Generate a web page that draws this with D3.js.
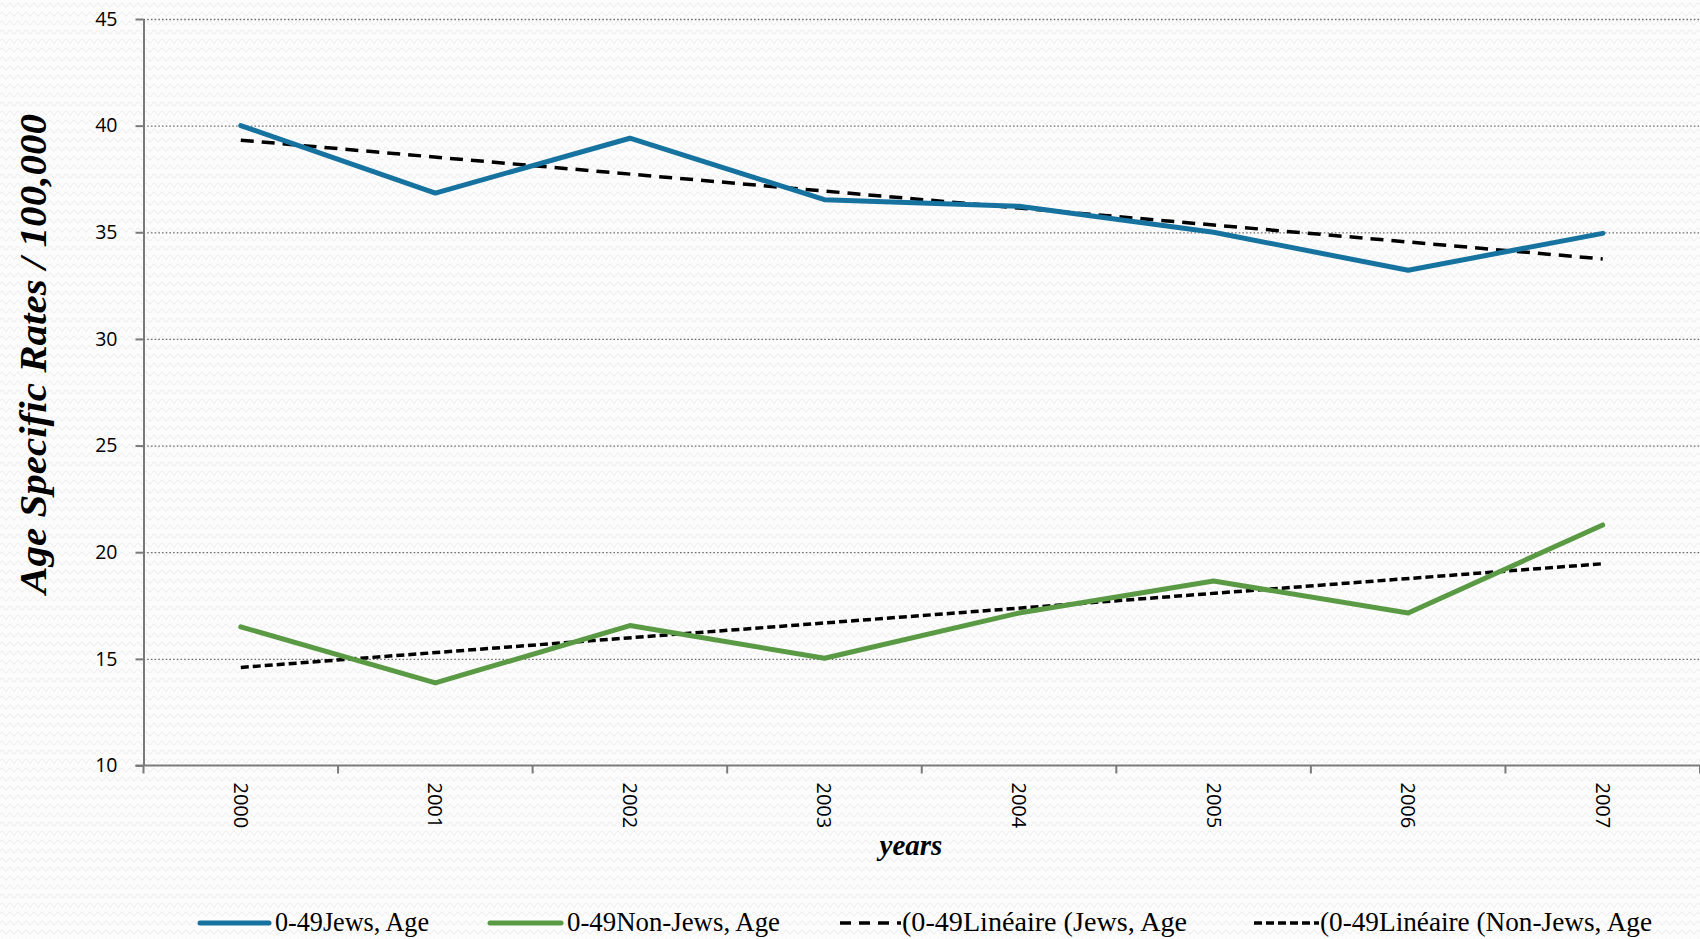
<!DOCTYPE html>
<html>
<head>
<meta charset="utf-8">
<script src="https://cdn.jsdelivr.net/npm/d3@7"></script>
<style>
  html, body { margin: 0; padding: 0; background: #fcfcfc; }
  svg { display: block; }
  .tick text { fill: #000; }
</style>
</head>
<body>
<svg width="1700" height="939"></svg>
<script>
const width = 1700, height = 939;

// data
const years = ["2000", "2001", "2002", "2003", "2004", "2005", "2006", "2007"];
const jews = [40.0, 36.84, 39.41, 36.53, 36.22, 35.0, 33.22, 34.95];
const nonJews = [16.5, 13.87, 16.56, 15.03, 17.15, 18.65, 17.15, 21.28];
// linear trend lines: values at first and last year
const jewsTrend = [39.32, 33.75];
const nonJewsTrend = [14.6, 19.46];
const yTicks = [10, 15, 20, 25, 30, 35, 40, 45];
const legendLabels = ["0-49Jews, Age", "0-49Non-Jews, Age", "(0-49Linéaire (Jews, Age", "(0-49Linéaire (Non-Jews, Age"];

const blue = "#16729f", green = "#5a9a44";

const margin = {left: 143.5, right: 0, top: 19, bottom: 173.5};
const svg = d3.select("svg");

// faint wavy background texture
const defs = svg.append("defs");
const pat = defs.append("pattern")
    .attr("id", "wave")
    .attr("width", 8).attr("height", 9)
    .attr("patternUnits", "userSpaceOnUse");
pat.append("path")
    .attr("d", "M0,5 Q2,1 4,5 T8,5")
    .attr("fill", "none")
    .attr("stroke", "#ececec")
    .attr("stroke-width", 1);
svg.append("rect").attr("width", width).attr("height", height).attr("fill", "#fcfcfc");
svg.append("rect").attr("width", width).attr("height", height).attr("fill", "url(#wave)");

const x = d3.scaleBand().domain(years).range([margin.left, width - margin.right]);
const y = d3.scaleLinear().domain([10, 45]).range([height - margin.bottom, margin.top]);
const xc = d => x(d) + x.bandwidth() / 2;

// gridlines
svg.append("g")
    .attr("transform", `translate(${margin.left},0)`)
    .call(d3.axisLeft(y).tickValues(yTicks.filter(v => v > 10)).tickSize(-(width - margin.left)).tickFormat(""))
    .call(g => g.select(".domain").remove())
    .call(g => g.selectAll("line")
        .attr("stroke", "#6e6e6e")
        .attr("stroke-width", 1.3)
        .attr("stroke-dasharray", "1.6,2.1"));

// y axis
svg.append("g")
    .attr("transform", `translate(${margin.left},0)`)
    .call(d3.axisLeft(y).tickValues(yTicks).tickSize(8).tickPadding(18).tickSizeOuter(0))
    .call(g => g.select(".domain").attr("stroke", "#7a7a7a").attr("stroke-width", 2))
    .call(g => g.selectAll(".tick line").attr("stroke", "#7a7a7a").attr("stroke-width", 2))
    .call(g => g.selectAll("text")
        .style("font-family", "'Open Sans', sans-serif")
        .style("font-size", "19.5px"));

// x axis: labels at centres, ticks at band edges
const xAxis = svg.append("g")
    .attr("transform", `translate(0,${y(10)})`)
    .call(d3.axisBottom(x).tickSize(0).tickSizeOuter(0))
    .call(g => g.select(".domain").remove());
xAxis.selectAll("text")
    .attr("transform", "rotate(90)")
    .attr("x", 17).attr("y", 0).attr("dy", "0.35em")
    .attr("text-anchor", "start")
    .style("font-family", "'Open Sans', sans-serif")
    .style("font-size", "20px");
xAxis.append("line")
    .attr("x1", margin.left - 8).attr("x2", width)
    .attr("stroke", "#7a7a7a").attr("stroke-width", 2);
xAxis.selectAll(".edge")
    .data(years.map(d => x(d)).concat([x.range()[1]]))
    .join("line")
    .attr("class", "edge")
    .attr("x1", d => d).attr("x2", d => d)
    .attr("y1", 0).attr("y2", 8)
    .attr("stroke", "#7a7a7a").attr("stroke-width", 2);

// axis titles
svg.append("text")
    .attr("transform", `translate(46,354) rotate(-90)`)
    .attr("text-anchor", "middle")
    .attr("textLength", 480)
    .attr("lengthAdjust", "spacingAndGlyphs")
    .style("font-family", "'Liberation Serif', serif")
    .style("font-weight", "bold")
    .style("font-style", "italic")
    .style("font-size", "37px")
    .text("Age Specific Rates / 100,000");

svg.append("text")
    .attr("x", 911).attr("y", 855)
    .attr("text-anchor", "middle")
    .style("font-family", "'Liberation Serif', serif")
    .style("font-weight", "bold")
    .style("font-style", "italic")
    .style("font-size", "29px")
    .text("years");

// lines
const line = d3.line().x(d => xc(d.year)).y(d => y(d.value));
const toPts = vals => vals.map((v, i) => ({year: years[i], value: v}));
const trendPts = vals => [{year: years[0], value: vals[0]}, {year: years[years.length - 1], value: vals[1]}];

svg.append("path").datum(trendPts(jewsTrend))
    .attr("d", line).attr("fill", "none")
    .attr("stroke", "#000").attr("stroke-width", 3.5)
    .attr("stroke-dasharray", "13,8");
svg.append("path").datum(trendPts(nonJewsTrend))
    .attr("d", line).attr("fill", "none")
    .attr("stroke", "#000").attr("stroke-width", 3.5)
    .attr("stroke-dasharray", "8,4");

svg.append("path").datum(toPts(jews))
    .attr("d", line).attr("fill", "none")
    .attr("stroke", blue).attr("stroke-width", 5)
    .attr("stroke-linecap", "round").attr("stroke-linejoin", "round");
svg.append("path").datum(toPts(nonJews))
    .attr("d", line).attr("fill", "none")
    .attr("stroke", green).attr("stroke-width", 5)
    .attr("stroke-linecap", "round").attr("stroke-linejoin", "round");

// legend
const legendItems = [
    {x0: 200, x1: 269, color: blue, dash: null, w: 154},
    {x0: 490, x1: 561, color: green, dash: null, w: 213},
    {x0: 840, x1: 901, color: "#000", dash: "11,8", w: 285},
    {x0: 1254, x1: 1319, color: "#000", dash: "8,4", w: 332}
];
const legend = svg.append("g").attr("transform", "translate(0,923)");
legendItems.forEach((it, i) => {
    legend.append("line")
        .attr("x1", it.x0).attr("x2", it.x1)
        .attr("stroke", it.color)
        .attr("stroke-width", it.dash ? 3.5 : 5)
        .attr("stroke-linecap", it.dash ? "butt" : "round")
        .attr("stroke-dasharray", it.dash);
    legend.append("text")
        .attr("x", it.x1 + (it.dash ? 1 : 6)).attr("y", 8)
        .attr("textLength", it.w)
        .attr("lengthAdjust", "spacingAndGlyphs")
        .style("font-family", "'Liberation Serif', serif")
        .style("font-size", "26.5px")
        .text(legendLabels[i]);
});
</script>
</body>
</html>
